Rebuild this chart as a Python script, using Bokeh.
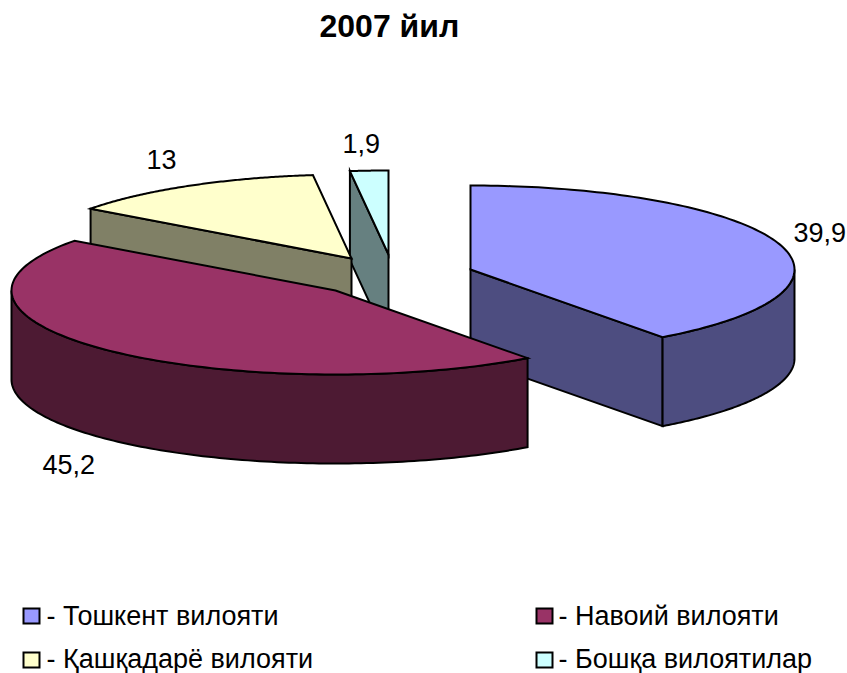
import numpy as np
from bokeh.plotting import figure
from bokeh.core.properties import value
from bokeh.embed import file_html
from bokeh.resources import INLINE

title = "2007 йил"
shares = [39.9, 45.2, 13, 1.9]
labels = ["39,9", "45,2", "13", "1,9"]
names = ["- Тошкент вилояти", "- Навоий вилояти", "- Қашқадарё вилояти", "- Бошқа вилоятилар"]
top_colors = ["#9999FF", "#993366", "#FFFFCC", "#CCFFFF"]
side_colors = ["#4D4D80", "#4D1A33", "#808066", "#668080"]

# layout (page pixels)
RX, RY, DEPTH = 324, 84, 89
centers = [(470, 269), (335, 290), (351, 258), (388, 254)]
label_pos = [(793, 232), (42, 464), (146, 159), (342, 143)]
swatch_pos = [(23, 608), (536, 608), (23, 652), (536, 652)]
text_pos = [(46, 615), (558, 615), (46, 658), (558, 658)]

FONT = value("Liberation Sans")
p = figure(width=847, height=673, x_range=(0, 847), y_range=(673, 0),
           toolbar_location=None, output_backend="svg", min_border=0)
p.axis.visible = False
p.grid.visible = False
p.outline_line_color = None

fracs = np.array(shares) / sum(shares) * 2 * np.pi
ends = np.cumsum(fracs)
starts = ends - fracs


def pt(c, a):
    return c[0] + RX * np.sin(a), c[1] - RY * np.cos(a)


def arc(c, a0, a1):
    t = np.linspace(a0, a1, 120)
    return pt(c, t)


def poly(xs, ys, color):
    p.patch(list(xs), list(ys), fill_color=color, line_color="black", line_width=2, line_join="miter")


def wedge_3d(i):
    c, a0, a1 = centers[i], starts[i], ends[i]
    side, top = side_colors[i], top_colors[i]
    # cut faces visible from the front
    for a, visible in ((a0, np.pi < a0 < 2 * np.pi), (a1, 0 < a1 < np.pi)):
        if visible:
            x, y = pt(c, a)
            poly([c[0], x, x, c[0]], [c[1], y, y + DEPTH, c[1] + DEPTH], side)
    # outer rim (front half only)
    lo, hi = max(a0, np.pi / 2), min(a1, 3 * np.pi / 2)
    if lo < hi:
        x, y = arc(c, lo, hi)
        poly(np.r_[x, x[::-1]], np.r_[y, (y + DEPTH)[::-1]], side)
    # top face
    x, y = arc(c, a0, a1)
    poly(np.r_[c[0], x], np.r_[c[1], y], top)


for i in (3, 2, 0, 1):
    wedge_3d(i)

p.text([319], [25], text=[title], text_font=FONT, text_font_size="32px", text_font_style="bold",
       text_baseline="alphabetic", text_color="black")
p.text([q[0] for q in label_pos], [q[1] for q in label_pos], text=labels, text_font=FONT,
       text_font_size="27px", text_baseline="alphabetic", text_color="black")
p.quad(left=[q[0] for q in swatch_pos], right=[q[0] + 16 for q in swatch_pos],
       top=[q[1] for q in swatch_pos], bottom=[q[1] + 15 for q in swatch_pos],
       fill_color=top_colors, line_color="black", line_width=2, line_join="miter")
p.text([q[0] for q in text_pos], [q[1] for q in text_pos], text=names, text_font=FONT,
       text_font_size="27px", text_baseline="alphabetic", text_color="black")

open("out.html", "w").write(file_html(p, INLINE))
